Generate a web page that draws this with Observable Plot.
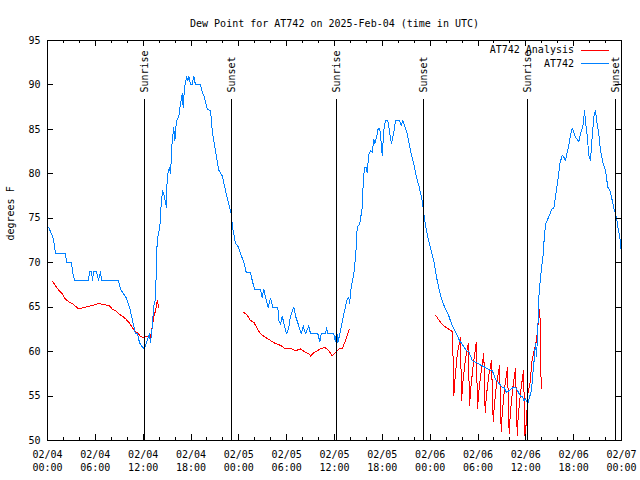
<!DOCTYPE html>
<html><head><meta charset="utf-8">
<script src="https://cdn.jsdelivr.net/npm/d3@7"></script>
<script src="https://cdn.jsdelivr.net/npm/@observablehq/plot@0.6"></script>
<style>body{margin:0;background:#fff} svg{display:block}</style>
</head><body><div id="chart"></div>
<script>
const chartTitle = "Dew Point for AT742 on 2025-Feb-04 (time in UTC)";
const yAxisLabel = "degrees F";
const startTime = "2025-02-04T00:00:00Z";
const endTime = "2025-02-07T00:00:00Z";
const yTicks = [50, 55, 60, 65, 70, 75, 80, 85, 90, 95];
const xMajorHours = [0, 6, 12, 18, 24, 30, 36, 42, 48, 54, 60, 66, 72];
const xMinorHours = [0,2,4,6,8,10,12,14,16,18,20,22,24,26,28,30,32,34,36,38,40,42,44,46,48,50,52,54,56,58,60,62,64,66,68,70,72];

const seriesNames = ["AT742 Analysis", "AT742"];
const seriesColors = ["#ff0000", "#0080ff"];

// observed dew point (hours since start, degF)
const obsHours = [0.13,0.63,0.88,1.0,2.26,2.38,3.01,3.14,3.39,5.14,5.27,5.52,5.64,5.77,6.15,6.40,6.65,6.77,8.91,9.16,9.91,10.29,10.54,10.79,11.04,11.29,11.54,11.92,12.17,12.42,12.79,12.92,13.17,13.30,13.55,13.64,13.76,14.09,14.26,14.43,14.68,14.93,15.01,15.27,15.43,15.64,15.84,15.97,16.18,16.47,16.68,16.90,17.02,17.19,17.44,17.60,17.72,17.94,18.15,18.35,18.56,19.19,19.41,19.69,20.03,20.45,20.66,20.86,21.20,21.49,21.91,22.33,22.74,23.04,23.17,23.29,23.58,23.87,24.21,24.62,24.93,25.46,25.68,25.97,26.72,26.93,27.13,27.47,27.68,27.97,28.26,28.89,29.01,29.23,29.44,29.73,29.98,30.27,30.48,30.90,31.11,31.52,31.82,32.08,32.36,32.78,32.99,33.91,34.16,34.33,34.87,35.00,35.16,35.91,36.13,36.25,36.42,36.67,36.97,37.26,37.59,37.80,37.88,38.09,38.42,38.67,38.85,39.17,39.48,39.60,39.76,40.01,40.10,40.30,40.52,40.73,40.93,41.06,41.36,41.48,41.68,41.86,41.98,42.19,42.40,42.69,42.94,43.15,43.44,43.65,44.15,44.37,44.57,44.78,45.12,45.53,45.95,46.29,46.63,47.00,47.20,47.42,47.70,48.04,48.46,48.67,48.88,49.08,49.30,49.63,49.92,50.34,50.77,51.18,51.81,51.89,52.65,52.85,53.27,55.57,55.78,56.20,57.04,57.24,57.58,58.49,58.71,59.33,59.55,59.75,59.96,60.25,60.50,60.71,60.84,61.00,61.21,61.34,61.50,61.63,61.84,62.18,62.34,62.51,63.31,63.51,63.72,64.01,64.26,64.56,64.76,64.98,65.19,65.39,65.60,65.81,66.02,66.23,66.44,66.65,66.86,67.07,67.20,67.36,67.52,67.70,67.90,68.11,68.32,68.53,68.74,68.95,69.15,69.37,69.71,69.99,70.28,70.54,70.84,71.04,71.38,71.54,71.79,71.96];
const obsValues = [74,73,72,71,71,70,70,69,68,68,69,69,68,69,69,68,69,68,68,67,66,65,64,63,62,62,61,60.5,60.3,61,62,61,63,65,66,69,72.5,74,76.6,78.1,77.4,76.2,79.6,80.7,80,83.7,85.2,83.7,86,86.4,87.9,89,87.5,89.7,90.9,90.5,91,90,90,91,90,90,89.2,88.6,87.3,87.1,84.9,83.7,81.9,80.4,79.8,78.1,76.6,75.5,74.4,73.6,72.2,71.9,71,70.1,68.9,68.9,68,67,67,66.1,67,65.7,65,66,65,65,63.5,63.1,64,62.9,62,62.7,64,65,64,62.9,62,62.9,62,62.9,62,62,61.1,62,62,62.7,62,62,61.1,62.5,61,62,63.3,64.6,65.9,66.1,65.4,67.2,68.7,71,74,74.4,76.2,78.9,80.7,80.7,80.1,82.2,82.6,82.4,83.9,83.4,84.5,85.1,85.1,83.4,82.1,84.9,86,86,84.5,83.4,84.7,86,86,85.4,86,85.4,84.5,82.6,81.1,79.6,78.5,77,75.5,74.2,72.9,71.7,70.2,69.1,68,67.2,66.3,65.4,64.8,64,62.9,62.2,61,61,60,60,59,57.9,57.9,56.9,56,56,55.4,56,56,55,55,54.5,54.7,54.1,55,55.6,57.1,58.6,60.9,59.4,62.4,66.1,68.4,71,73.2,74.4,76.1,76.1,77.4,79.2,81.1,82.1,81.9,81.5,82.4,83.2,84.3,85.1,84.7,84.1,83.9,83.6,84.5,85.1,85.6,87.1,85.6,84.3,82.1,81.5,84.1,86.4,87.1,85.6,84.5,82.6,81.1,80.4,78.5,78.1,77,76.1,75.1,74,72.9,71.4,69.5];

// analysis dew point, three separate segments
const anaHours1 = [0.66,1.0,1.42,1.84,2.26,2.67,3.10,3.51,3.93,4.35,4.77,5.18,5.61,6.02,6.44,6.86,7.69,8.12,8.53,8.94,9.37,9.78,10.2,10.62,10.91,11.33,11.67,12.08,12.51,12.71,12.92,13.13,13.33,13.55,13.76,13.96];
const anaValues1 = [67.9,67.4,66.9,66.5,65.9,65.6,65.4,65.1,64.8,64.9,65.0,65.1,65.2,65.3,65.45,65.3,65.2,64.8,64.6,64.25,64.0,63.7,63.3,62.75,62.3,62.1,61.7,61.6,61.7,61.8,61.6,62.75,63.9,64.6,65.75,65.0];
const anaHours2 = [24.62,25.05,25.46,25.88,26.30,26.72,27.35,27.97,28.60,29.23,29.85,30.69,31.11,31.74,32.36,32.78,32.99,33.41,33.83,34.24,34.75,35.29,35.71,36.13,36.54,36.97,37.38,37.80,37.92];
const anaValues2 = [64.4,64.1,63.5,63.3,62.6,62.0,61.6,61.25,60.9,60.7,60.3,60.3,60.1,60.3,59.9,59.8,59.5,59.9,60.1,60.3,60.5,60.1,59.5,59.9,60.3,60.3,61.25,62.4,62.5];
const anaHours3 = [48.67,49.30,49.92,50.55,50.80,50.97,51.10,51.40,51.81,51.93,52.10,52.40,52.77,52.94,53.10,53.40,53.78,53.94,54.10,54.40,54.73,54.90,55.05,55.35,55.69,55.91,56.05,56.35,56.70,56.91,57.05,57.35,57.70,57.91,58.05,58.35,58.71,58.92,59.05,59.35,59.71,59.90,60.09,60.25,60.59,60.71,61.0,61.34,61.63,61.76,61.84,61.93];
const anaValues3 = [64.1,63.3,62.75,62.4,62.2,55.1,56.8,59.7,61.6,54.5,56.5,59.0,60.9,53.9,55.9,58.5,61.0,53.6,55.5,57.8,59.75,53.1,55.0,57.3,59.0,52.1,54.0,56.5,58.4,51.0,53.2,56.0,58.25,50.75,53.0,55.8,58.1,50.6,52.8,55.5,57.9,50.4,52.4,55.25,56.75,58.6,60.0,61.25,63.9,64.8,60.3,55.8];

const eventHours = [12.2, 23.08, 36.3, 47.2, 60.27, 71.25];
const eventLabels = ["Sunrise", "Sunset", "Sunrise", "Sunset", "Sunrise", "Sunset"];

// ---- build tables ----
const t0 = new Date(startTime).getTime();
const toDate = h => new Date(t0 + h * 3600e3);
const obs = obsHours.map((h, i) => ({date: toDate(h), value: obsValues[i]}));
const ana = [];
[[anaHours1, anaValues1], [anaHours2, anaValues2], [anaHours3, anaValues3]].forEach(([hs, vs], s) =>
  hs.forEach((h, i) => ana.push({date: toDate(h), value: vs[i], seg: s})));
const events = eventHours.map((h, i) => ({date: toDate(h), label: eventLabels[i]}));
const majorDates = xMajorHours.map(toDate);
const minorDates = xMinorHours.map(toDate);

const W = 640, H = 480, mL = 47, mR = 19, mT = 40, mB = 40;
const plotW = W - mL - mR, plotH = H - mT - mB;
const font = "'DejaVu Sans Mono', monospace";
const fmtD = d3.utcFormat("%m/%d"), fmtT = d3.utcFormat("%H:%M");
const crisp = {shapeRendering: "crispEdges"};

const legend = (index, scales, values, dims) => {
  const g = d3.create("svg:g").attr("font-family", font).attr("font-size", 10).attr("fill", "black");
  seriesNames.forEach((name, i) => {
    const y = dims.marginTop + 9.5 + i * 13.5;
    const right = dims.width - dims.marginRight;
    g.append("text").attr("x", right - 47).attr("y", y).attr("dy", "0.35em").attr("text-anchor", "end").text(name);
    g.append("line").attr("x1", right - 40).attr("x2", right - 12).attr("y1", Math.round(y) + 0.5).attr("y2", Math.round(y) + 0.5)
      .attr("stroke", seriesColors[i]).attr("stroke-width", 1).attr("shape-rendering", "crispEdges");
  });
  return g.node();
};

const chart = Plot.plot({
  width: W, height: H,
  marginLeft: mL, marginRight: mR, marginTop: mT, marginBottom: mB,
  style: {fontFamily: font, fontSize: "10px", background: "white", color: "black"},
  x: {type: "utc", domain: [new Date(startTime), new Date(endTime)]},
  y: {domain: [50, 95]},
  marks: [
    Plot.line(ana, {x: "date", y: "value", z: "seg", stroke: seriesColors[0], strokeWidth: 1, clip: true, ...crisp}),
    Plot.line(obs, {x: "date", y: "value", stroke: seriesColors[1], strokeWidth: 1, clip: true, ...crisp}),
    Plot.ruleX(events, {x: "date", insetTop: 59, stroke: "black", strokeWidth: 1, ...crisp}),
    Plot.text(events, {x: "date", text: "label", frameAnchor: "top", rotate: -90, textAnchor: "start", lineAnchor: "middle", dy: 52, fill: "black"}),
    // ticks (inward, mirrored)
    Plot.ruleY(yTicks, {y: d => d, insetRight: plotW - 6, stroke: "black", ...crisp}),
    Plot.ruleY(yTicks, {y: d => d, insetLeft: plotW - 6, stroke: "black", ...crisp}),
    Plot.ruleX(minorDates, {x: d => d, insetTop: plotH - 3, stroke: "black", ...crisp}),
    Plot.ruleX(minorDates, {x: d => d, insetBottom: plotH - 3, stroke: "black", ...crisp}),
    Plot.ruleX(majorDates, {x: d => d, insetTop: plotH - 6, stroke: "black", ...crisp}),
    Plot.ruleX(majorDates, {x: d => d, insetBottom: plotH - 6, stroke: "black", ...crisp}),
    Plot.axisY({ticks: yTicks, tickSize: 0, tickPadding: 7, label: null, fontSize: 10}),
    Plot.axisX({ticks: majorDates, tickSize: 0, tickPadding: 8, label: null, lineHeight: 1.3,
      tickFormat: d => fmtD(d) + "\n" + fmtT(d)}),
    Plot.frame({stroke: "black", strokeWidth: 1, ...crisp}),
    Plot.text([chartTitle], {text: d => d, frameAnchor: "top", dy: -21, fill: "black"}),
    Plot.text([yAxisLabel], {text: d => d, frameAnchor: "left", rotate: -90, dx: -37, fill: "black"}),
    legend
  ]
});
document.getElementById("chart").appendChild(chart);
</script>
</body></html>
